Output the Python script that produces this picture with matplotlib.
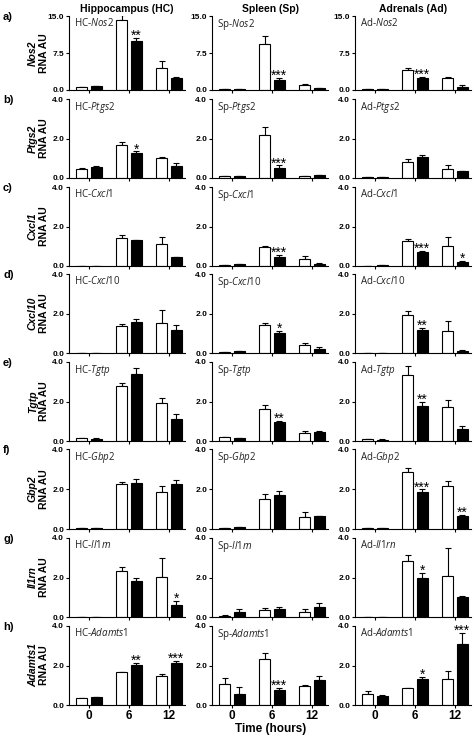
import numpy as np
import matplotlib
matplotlib.use("Agg")
import matplotlib.pyplot as plt

plt.rcParams["font.family"] = "Liberation Sans"
plt.rcParams["mathtext.fontset"] = "custom"
plt.rcParams["mathtext.rm"] = "Open Sans"
plt.rcParams["mathtext.it"] = "Open Sans:italic"

# genes (rows) and tissues (columns)
genes = ["Nos2", "Ptgs2", "Cxcl1", "Cxcl10", "Tgtp", "Gbp2", "Il1rn", "Adamts1"]
row_tags = ["a)", "b)", "c)", "d)", "e)", "f)", "g)", "h)"]
tissues = ["Hippocampus (HC)", "Spleen (Sp)", "Adrenals (Ad)"]
prefixes = ["HC", "Sp", "Ad"]
times = ["0", "6", "12"]

# mean RNA AU at 0, 6, 12 h; white = open bars, black = filled bars
hc_white = [[0.6, 14.1, 4.5], [0.46, 1.65, 1.0], [0.02, 1.43, 1.09], [0.0, 1.38, 1.51],
            [0.15, 2.8, 1.94], [0.05, 2.25, 1.87], [0.01, 2.35, 2.05], [0.34, 1.65, 1.47]]
hc_white_err = [[0.1, 1.2, 1.4], [0.04, 0.15, 0.06], [0.0, 0.12, 0.39], [0.0, 0.1, 0.67],
                [0.02, 0.15, 0.25], [0.01, 0.12, 0.26], [0.0, 0.17, 0.92], [0.02, 0.04, 0.1]]
hc_black = [[0.75, 9.95, 2.35], [0.57, 1.27, 0.62], [0.02, 1.31, 0.44], [0.02, 1.55, 1.14],
            [0.12, 3.38, 1.11], [0.05, 2.28, 2.27], [0.01, 1.8, 0.6], [0.39, 2.03, 2.11]]
hc_black_err = [[0.05, 0.65, 0.35], [0.03, 0.08, 0.14], [0.0, 0.03, 0.03], [0.0, 0.15, 0.27],
                [0.01, 0.33, 0.27], [0.01, 0.22, 0.2], [0.0, 0.18, 0.21], [0.01, 0.1, 0.13]]
hc_sig = [["", "**", ""], ["", "*", ""], ["", "", ""], ["", "", ""],
          ["", "", ""], ["", "", ""], ["", "", "*"], ["", "**", "***"]]

sp_white = [[0.2, 9.3, 0.95], [0.08, 2.19, 0.1], [0.05, 0.94, 0.34], [0.06, 1.43, 0.4],
            [0.18, 1.6, 0.39], [0.04, 1.52, 0.6], [0.07, 0.37, 0.25], [1.05, 2.33, 0.96]]
sp_white_err = [[0.03, 1.7, 0.2], [0.02, 0.39, 0.01], [0.01, 0.06, 0.16], [0.01, 0.08, 0.12],
                [0.02, 0.22, 0.12], [0.01, 0.23, 0.25], [0.01, 0.1, 0.15], [0.3, 0.32, 0.07]]
sp_black = [[0.15, 2.1, 0.35], [0.08, 0.52, 0.15], [0.08, 0.47, 0.1], [0.08, 1.01, 0.22],
            [0.14, 0.95, 0.44], [0.08, 1.68, 0.63], [0.24, 0.42, 0.5], [0.56, 0.74, 1.27]]
sp_black_err = [[0.03, 0.4, 0.1], [0.01, 0.12, 0.02], [0.01, 0.08, 0.03], [0.01, 0.12, 0.08],
                [0.01, 0.08, 0.07], [0.01, 0.24, 0.02], [0.16, 0.08, 0.2], [0.37, 0.14, 0.2]]
sp_sig = [["", "***", ""], ["", "***", ""], ["", "***", ""], ["", "*", ""],
          ["", "**", ""], ["", "", ""], ["", "", ""], ["", "***", ""]]

ad_white = [[0.15, 3.97, 2.4], [0.03, 0.81, 0.46], [0.02, 1.26, 0.99], [0.0, 1.92, 1.09],
            [0.1, 3.34, 1.74], [0.03, 2.83, 2.15], [0.01, 2.84, 2.1], [0.54, 0.84, 1.32]]
ad_white_err = [[0.02, 0.43, 0.2], [0.01, 0.15, 0.18], [0.0, 0.12, 0.46], [0.0, 0.21, 0.51],
                [0.01, 0.44, 0.35], [0.0, 0.22, 0.23], [0.0, 0.32, 1.38], [0.17, 0.04, 0.4]]
ad_black = [[0.15, 2.35, 0.55], [0.03, 1.05, 0.34], [0.04, 0.7, 0.2], [0.0, 1.14, 0.1],
            [0.07, 1.77, 0.61], [0.03, 1.87, 0.63], [0.01, 1.97, 0.99], [0.46, 1.33, 3.09]]
ad_black_err = [[0.02, 0.35, 0.4], [0.0, 0.13, 0.03], [0.0, 0.07, 0.05], [0.0, 0.12, 0.03],
                [0.01, 0.22, 0.13], [0.0, 0.11, 0.07], [0.0, 0.25, 0.09], [0.03, 0.09, 0.56]]
ad_sig = [["", "***", ""], ["", "", ""], ["", "***", "*"], ["", "**", ""],
          ["", "**", ""], ["", "***", "**"], ["", "*", ""], ["", "*", "***"]]

tissue_data = [
    (hc_white, hc_white_err, hc_black, hc_black_err, hc_sig),
    (sp_white, sp_white_err, sp_black, sp_black_err, sp_sig),
    (ad_white, ad_white_err, ad_black, ad_black_err, ad_sig),
]

# layout in pixels of the 474x736 figure
W, H = 474, 736
row_top = [16, 99, 187, 274, 362, 449, 538, 626]
row_bot = [90, 178, 266, 353, 441, 529, 617, 705]
col_left = [69, 212, 355]
col_right = [185, 328, 471]

fig = plt.figure(figsize=(W / 100, H / 100), dpi=100)
x = np.arange(len(times))
bw = 0.27
off = 0.18

for r, gene in enumerate(genes):
    ymax = 15.0 if gene == "Nos2" else 4.0
    for c in range(3):
        white, white_err, black, black_err, sig = tissue_data[c]
        rect = [col_left[c] / W, 1 - row_bot[r] / H,
                (col_right[c] - col_left[c]) / W, (row_bot[r] - row_top[r]) / H]
        ax = fig.add_axes(rect)
        wm, we = np.array(white[r]), np.array(white_err[r])
        bm, be = np.array(black[r]), np.array(black_err[r])
        ax.errorbar(x - off, wm, yerr=[np.zeros(3), we], fmt="none", ecolor="black",
                    elinewidth=0.8, capsize=2, capthick=0.8, zorder=1)
        ax.errorbar(x + off, bm, yerr=[np.zeros(3), be], fmt="none", ecolor="black",
                    elinewidth=0.8, capsize=2, capthick=0.8, zorder=1)
        ax.bar(x - off, wm, bw, color="white", edgecolor="black", linewidth=0.8, zorder=2)
        ax.bar(x + off, bm, bw, color="black", edgecolor="black", linewidth=0.8, zorder=2)
        for i, s in enumerate(sig[r]):
            if s:
                ax.annotate(s, (x[i] + off, bm[i] + be[i]), xytext=(0, -1.5),
                            textcoords="offset points", ha="center", va="baseline",
                            fontsize=10)
        ax.set_xlim(-0.5, 2.4)
        ax.set_ylim(0, ymax)
        ax.set_yticks([0, ymax / 2, ymax])
        ax.set_yticklabels([f"{v:.1f}" for v in [0, ymax / 2, ymax]],
                           fontsize=6, fontweight="bold")
        ax.set_xticks(x)
        if r == len(genes) - 1:
            ax.set_xticklabels(times, fontsize=8.5, fontweight="bold")
        else:
            ax.set_xticklabels([])
        ax.tick_params(direction="out", length=2.5, width=0.8, pad=1)
        for sp in ["top", "right"]:
            ax.spines[sp].set_visible(False)
        for sp in ["left", "bottom"]:
            ax.spines[sp].set_linewidth(0.8)
        ax.text(0.04, 0.99, f"{prefixes[c]}-$\\mathit{{{gene}}}$", transform=ax.transAxes,
                ha="left", va="top", fontsize=7, fontfamily="Open Sans", color="#222222")
        if r == 0:
            ax.set_title(tissues[c], fontsize=7.5, fontweight="bold", pad=3)

    # row tag and y label
    ymid = 1 - (row_top[r] + row_bot[r]) / 2 / H
    fig.text(3 / W, 1 - (row_top[r] + 1) / H, row_tags[r], fontsize=8, fontweight="bold",
             ha="left", va="center")
    fig.text(33 / W, ymid, gene, rotation=90, fontsize=7.5, fontweight="bold",
             fontstyle="italic", ha="center", va="center")
    fig.text(44 / W, ymid, "RNA AU", rotation=90, fontsize=7.5, fontweight="bold",
             ha="center", va="center")

fig.text(271 / W, 1 - 729 / H, "Time (hours)", fontsize=8.5, fontweight="bold",
         ha="center", va="center")

fig.savefig("out.png", dpi=100)
